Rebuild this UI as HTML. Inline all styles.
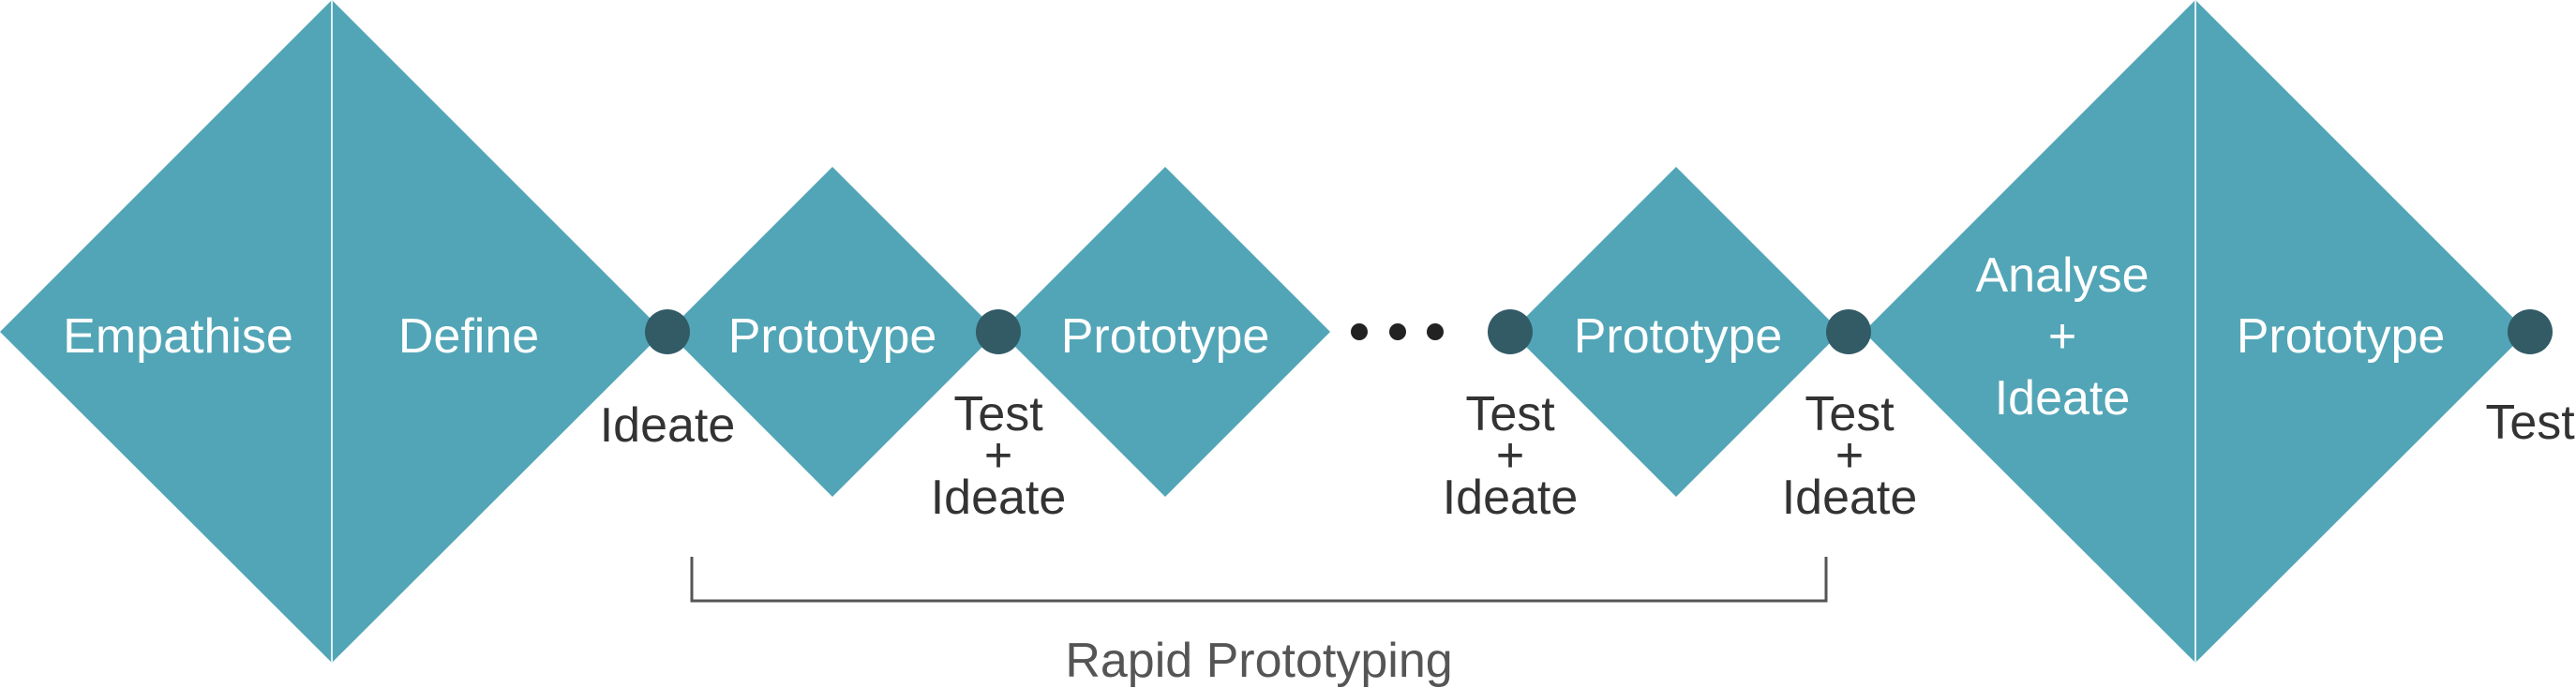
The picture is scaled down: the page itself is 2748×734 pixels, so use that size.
<!DOCTYPE html>
<html><head><meta charset="utf-8"><style>
html,body{margin:0;padding:0;background:#fff;}
svg{display:block;}
text{font-family:"Liberation Sans",sans-serif;}
</style></head><body>
<svg width="2748" height="734" viewBox="0 0 2748 734" xmlns="http://www.w3.org/2000/svg">
<g fill="#52a5b6">
<polygon points="0,354 354,0 708,354 354,707"/>
<polygon points="712,354 888,178 1064,354 888,530"/>
<polygon points="1067,354 1243,178 1419,354 1243,530"/>
<polygon points="1612,354 1788,178 1964,354 1788,530"/>
<polygon points="1988,354 2342,0 2696,354 2342,707"/>
</g>
<line x1="354" y1="0" x2="354" y2="707" stroke="#dff0f3" stroke-width="2"/>
<line x1="2342" y1="0" x2="2342" y2="707" stroke="#dff0f3" stroke-width="2"/>
<g fill="#325b66">
<circle cx="712" cy="354" r="24"/>
<circle cx="1065" cy="354" r="24"/>
<circle cx="1611" cy="354" r="24"/>
<circle cx="1972" cy="354" r="24"/>
<circle cx="2699" cy="354" r="24"/>
</g>
<g fill="#222">
<circle cx="1450" cy="354" r="9"/>
<circle cx="1491" cy="354" r="9"/>
<circle cx="1531" cy="354" r="9"/>
</g>
<g fill="#fff" font-size="52" text-anchor="middle">
<text x="190" y="376">Empathise</text>
<text x="500" y="376">Define</text>
<text x="888" y="376">Prototype</text>
<text x="1243" y="376">Prototype</text>
<text x="1790" y="376">Prototype</text>
<text x="2497" y="376">Prototype</text>
<text x="2200" y="311">Analyse</text>
<text x="2200" y="376">+</text>
<text x="2200" y="442">Ideate</text>
</g>
<g fill="#333" font-size="52" text-anchor="middle">
<text x="712" y="471">Ideate</text>
<text x="1065" y="459">Test</text>
<text x="1065" y="503">+</text>
<text x="1065" y="548">Ideate</text>
<text x="1611" y="459">Test</text>
<text x="1611" y="503">+</text>
<text x="1611" y="548">Ideate</text>
<text x="1973" y="459">Test</text>
<text x="1973" y="503">+</text>
<text x="1973" y="548">Ideate</text>
<text x="2699" y="468">Test</text>
</g>
<polyline points="738,594 738,641 1948,641 1948,594" fill="none" stroke="#555" stroke-width="3"/>
<text x="1343" y="722" fill="#555" font-size="52" text-anchor="middle">Rapid Prototyping</text>
</svg>
</body></html>
